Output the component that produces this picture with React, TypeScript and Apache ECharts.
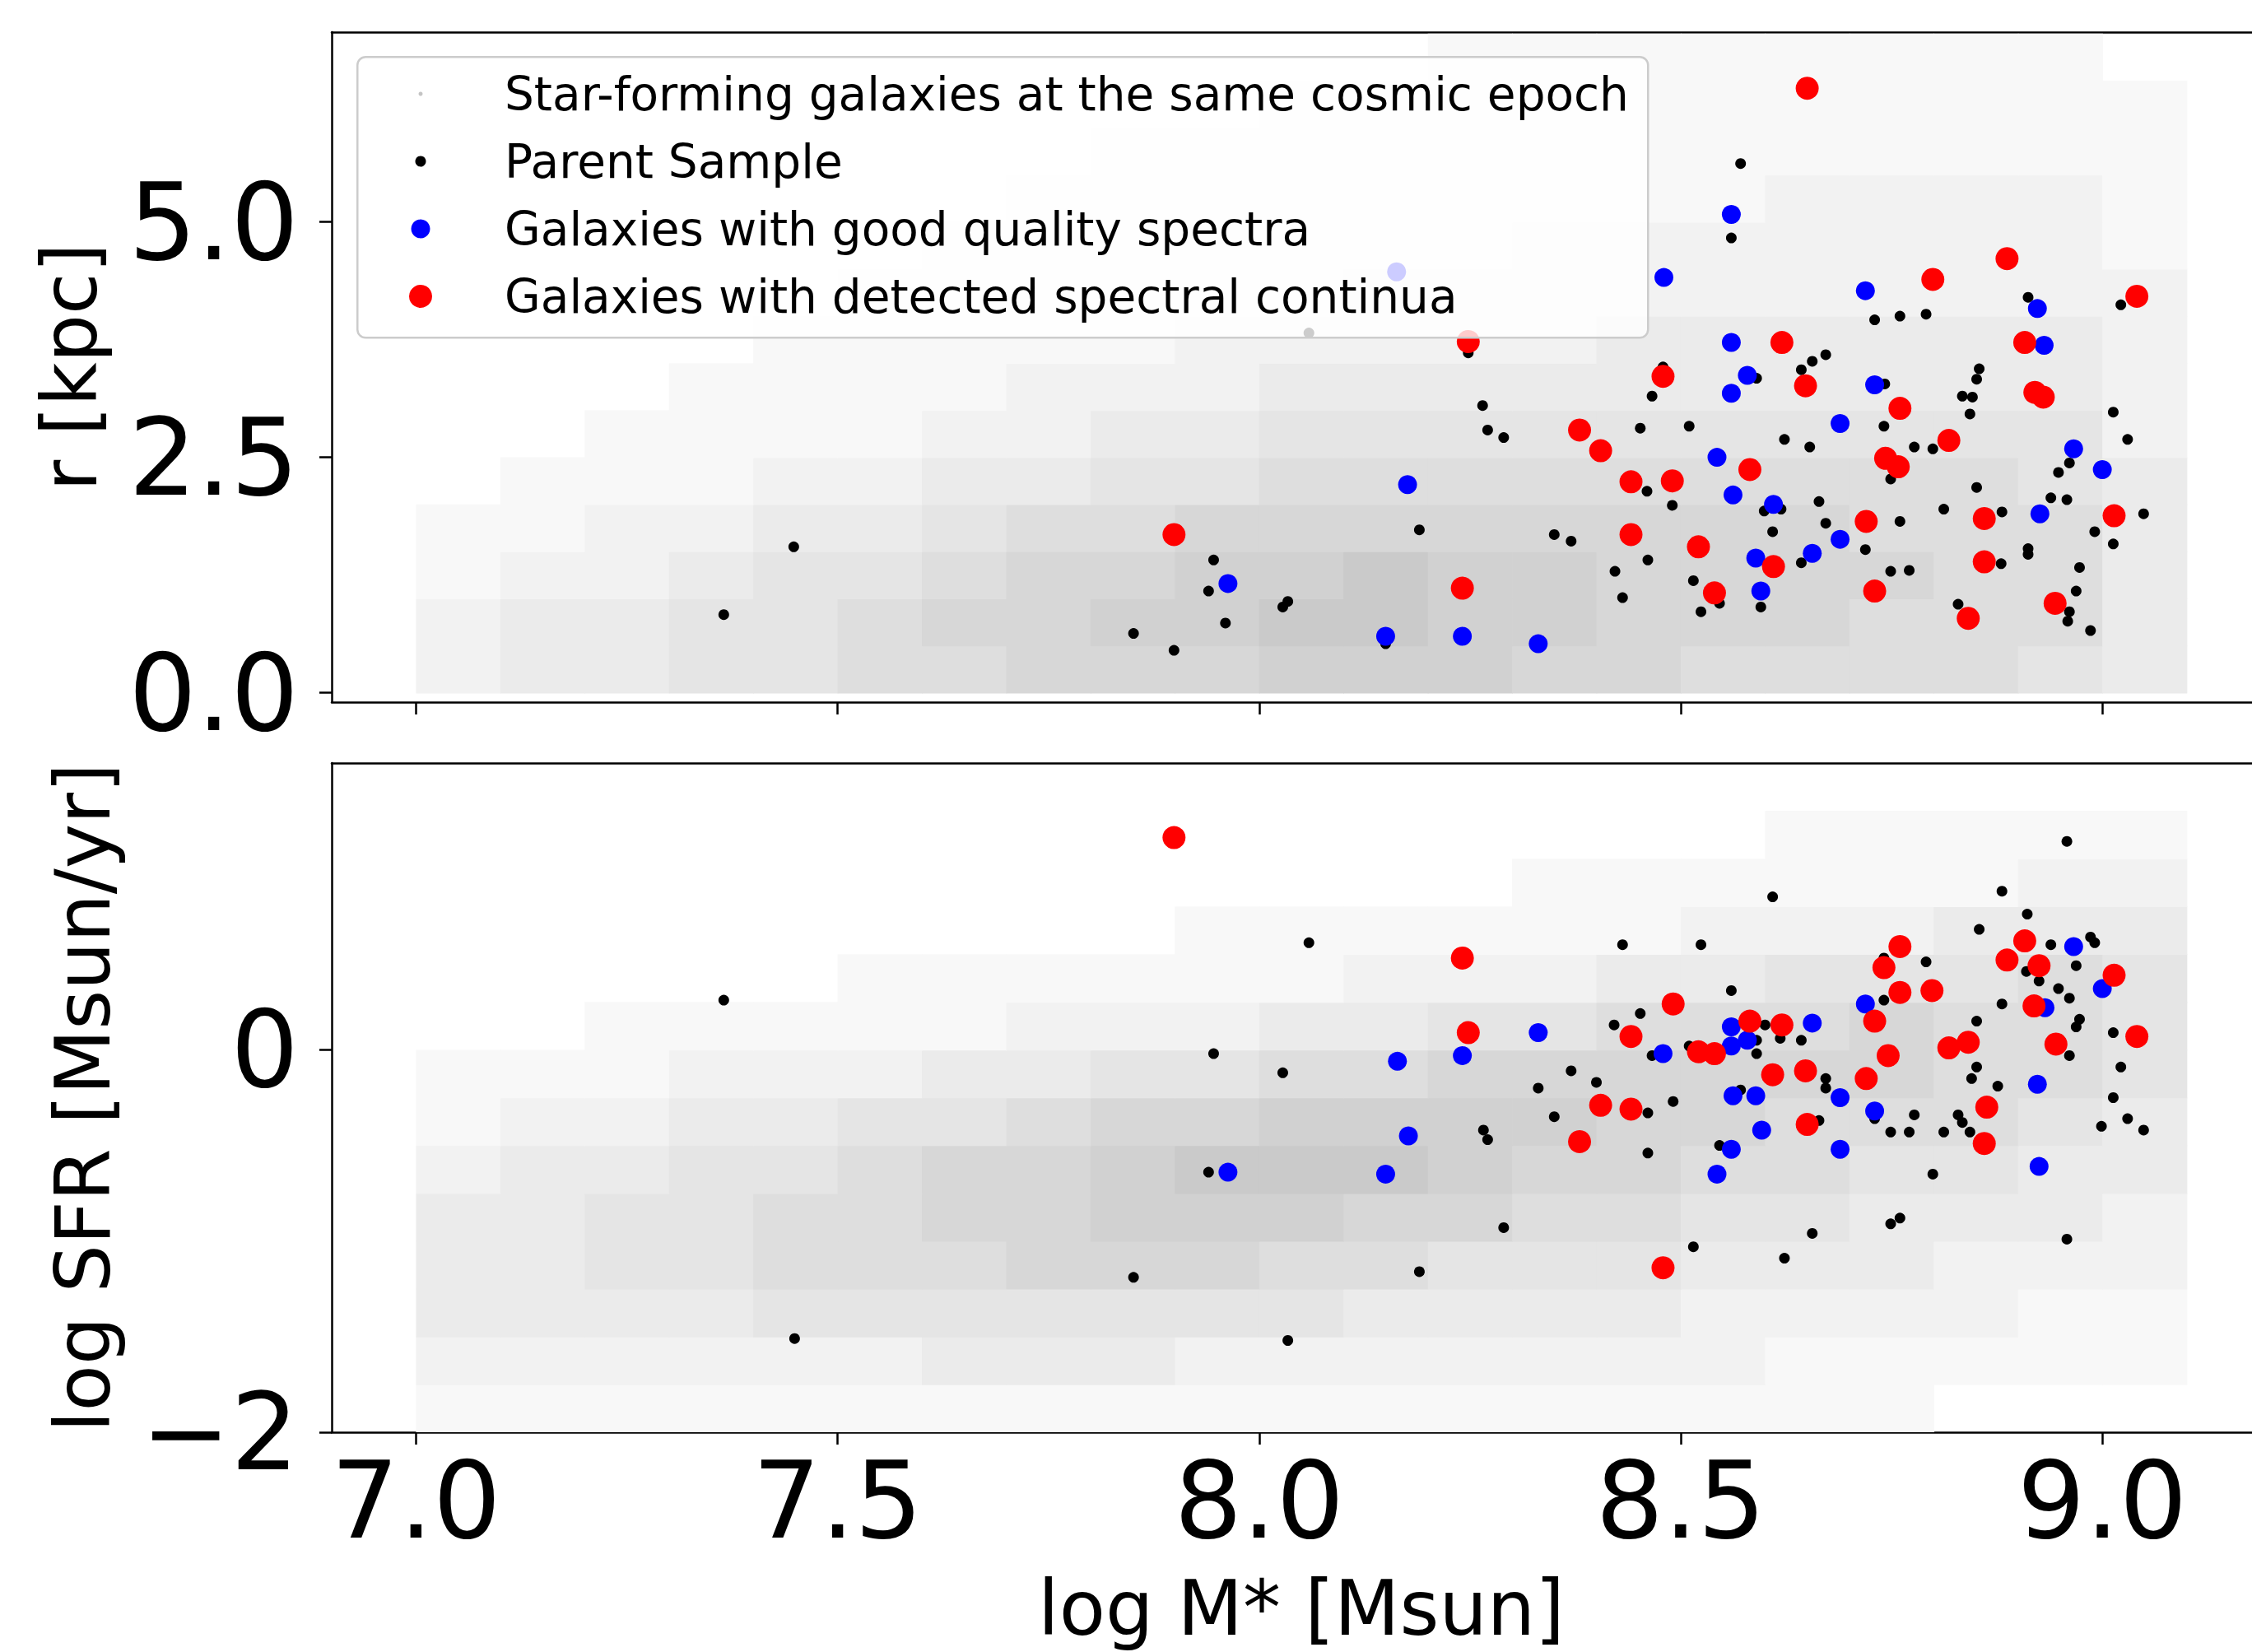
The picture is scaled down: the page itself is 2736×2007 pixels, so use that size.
import React, { useEffect, useRef } from 'react';
import * as echarts from 'echarts';

const FONT = "'DejaVu Sans', 'Liberation Sans', sans-serif";

const NAME_SF = 'Star-forming galaxies at the same cosmic epoch';
const NAME_PARENT = 'Parent Sample';
const NAME_GOOD = 'Galaxies with good quality spectra';
const NAME_CONT = 'Galaxies with detected spectral continua';

// axis ticks
const massTicks = [7.0, 7.5, 8.0, 8.5, 9.0];
const radiusTicks = [0, 2.5, 5.0];
const sfrTicks = [-2, 0];

// background population, read as a density grid (0 = empty .. 9 = densest)
const massBins = [7.0, 7.1, 7.2, 7.3, 7.4, 7.5, 7.6, 7.7, 7.8, 7.9, 8.0, 8.1, 8.2, 8.3, 8.4, 8.5, 8.6, 8.7, 8.8, 8.9, 9.0];
const MASS_BIN = 0.1;
const radiusBins = [0, 0.5, 1.0, 1.5, 2.0, 2.5, 3.0, 3.5, 4.0, 4.5, 5.0, 5.5, 6.0, 6.5];
const RADIUS_BIN = 0.5;
const sfrBins = [-2.0, -1.75, -1.5, -1.25, -1.0, -0.75, -0.5, -0.25, 0, 0.25, 0.5, 0.75, 1.0, 1.25];
const SFR_BIN = 0.25;

const radiusDensity = [
  [2, 3, 3, 4, 4, 5, 5, 6, 6, 6, 7, 7, 7, 6, 6, 5, 5, 5, 5, 4, 3],
  [2, 3, 3, 4, 4, 5, 6, 6, 7, 7, 8, 8, 7, 7, 6, 6, 6, 5, 5, 5, 3],
  [1, 2, 2, 3, 4, 4, 5, 6, 6, 7, 7, 8, 7, 7, 6, 6, 6, 6, 5, 5, 3],
  [1, 1, 2, 2, 3, 3, 4, 5, 5, 6, 6, 6, 6, 6, 6, 6, 6, 5, 5, 5, 3],
  [0, 1, 1, 1, 2, 2, 3, 3, 4, 4, 5, 5, 5, 5, 5, 5, 5, 5, 5, 4, 3],
  [0, 0, 1, 1, 1, 1, 2, 2, 3, 3, 4, 4, 4, 4, 4, 4, 4, 4, 4, 4, 2],
  [0, 0, 0, 1, 1, 1, 1, 2, 2, 2, 3, 3, 3, 3, 3, 3, 3, 3, 3, 3, 2],
  [0, 0, 0, 0, 1, 1, 1, 1, 1, 2, 2, 2, 2, 2, 3, 3, 3, 3, 3, 3, 2],
  [0, 0, 0, 0, 0, 1, 1, 1, 1, 1, 1, 2, 2, 2, 2, 2, 2, 2, 2, 2, 2],
  [0, 0, 0, 0, 0, 0, 1, 1, 1, 1, 1, 1, 1, 2, 2, 2, 2, 2, 2, 2, 1],
  [0, 0, 0, 0, 0, 0, 0, 1, 1, 1, 1, 1, 1, 1, 1, 1, 2, 2, 2, 2, 1],
  [0, 0, 0, 0, 0, 0, 0, 0, 1, 1, 1, 1, 1, 1, 1, 1, 1, 1, 1, 1, 1],
  [0, 0, 0, 0, 0, 0, 0, 0, 0, 0, 1, 1, 1, 1, 1, 1, 1, 1, 1, 1, 1],
  [0, 0, 0, 0, 0, 0, 0, 0, 0, 0, 0, 0, 1, 1, 1, 1, 1, 1, 1, 1, 0],
];

const sfrDensity = [
  [1, 1, 1, 1, 1, 1, 1, 1, 1, 1, 1, 1, 1, 1, 1, 1, 1, 1, 0, 0, 0],
  [2, 2, 2, 2, 2, 2, 3, 3, 3, 2, 2, 2, 2, 2, 2, 2, 1, 1, 1, 1, 1],
  [3, 3, 3, 3, 4, 4, 4, 4, 4, 4, 4, 3, 3, 3, 3, 2, 2, 2, 2, 1, 1],
  [3, 3, 4, 4, 5, 5, 5, 6, 6, 6, 5, 5, 4, 4, 4, 3, 3, 3, 2, 2, 2],
  [3, 3, 4, 4, 5, 5, 6, 6, 7, 7, 7, 6, 6, 5, 5, 4, 4, 3, 3, 3, 2],
  [2, 3, 3, 4, 4, 5, 6, 6, 7, 8, 8, 8, 7, 6, 6, 5, 5, 4, 4, 3, 3],
  [1, 2, 2, 3, 3, 4, 4, 5, 6, 6, 7, 7, 7, 7, 6, 6, 5, 5, 5, 4, 3],
  [1, 1, 1, 2, 2, 2, 3, 3, 4, 4, 5, 5, 6, 6, 6, 6, 6, 6, 5, 5, 4],
  [0, 0, 1, 1, 1, 1, 1, 2, 2, 2, 3, 3, 4, 4, 5, 5, 5, 6, 5, 5, 4],
  [0, 0, 0, 0, 0, 1, 1, 1, 1, 1, 1, 2, 2, 2, 3, 3, 4, 4, 4, 5, 4],
  [0, 0, 0, 0, 0, 0, 0, 0, 0, 1, 1, 1, 1, 1, 1, 2, 2, 2, 3, 3, 3],
  [0, 0, 0, 0, 0, 0, 0, 0, 0, 0, 0, 0, 0, 1, 1, 1, 1, 1, 1, 2, 2],
  [0, 0, 0, 0, 0, 0, 0, 0, 0, 0, 0, 0, 0, 0, 0, 0, 1, 1, 1, 1, 1],
  [0, 0, 0, 0, 0, 0, 0, 0, 0, 0, 0, 0, 0, 0, 0, 0, 0, 0, 0, 0, 0],
];

// [log M*, r]
const parentRadius = [
  [8.059, 3.82], [8.248, 3.61], [8.479, 3.46], [8.466, 3.15], [8.265, 3.05], [8.271, 2.79], [8.29, 2.71],
  [8.452, 2.81], [8.51, 2.83], [8.46, 2.14], [8.49, 1.99], [8.19, 1.73], [8.35, 1.68], [8.37, 1.61],
  [8.461, 1.41], [7.946, 1.41], [7.94, 1.08], [7.96, 0.74], [8.028, 0.91], [8.034, 0.97], [8.15, 0.52],
  [7.899, 0.45], [8.422, 1.29], [8.431, 1.01], [8.515, 1.19], [8.524, 0.86], [7.851, 0.63], [7.448, 1.55],
  [7.365, 0.83],
  [8.571, 5.62], [8.56, 4.83], [9.022, 4.12], [8.912, 4.2], [8.73, 3.96], [8.76, 4.0], [8.791, 4.02],
  [8.672, 3.59], [8.656, 3.52], [8.643, 3.43], [8.854, 3.44], [8.851, 3.33], [8.59, 3.34], [8.742, 3.28],
  [8.834, 3.15], [8.846, 3.14], [8.843, 2.96], [9.013, 2.98], [8.741, 2.83], [8.623, 2.69], [8.653, 2.61],
  [9.03, 2.69], [8.777, 2.61], [8.799, 2.59], [8.749, 2.27], [8.961, 2.44], [8.948, 2.34], [8.851, 2.18],
  [8.939, 2.07], [8.958, 2.05], [8.599, 1.93], [8.619, 1.95], [8.664, 2.03], [8.672, 1.8], [8.76, 1.82],
  [8.812, 1.95], [8.881, 1.92], [9.049, 1.9], [8.609, 1.71], [8.719, 1.52], [8.991, 1.71], [9.013, 1.58],
  [8.643, 1.38], [8.749, 1.29], [8.771, 1.3], [8.88, 1.37], [8.912, 1.53], [8.912, 1.47], [8.973, 1.33],
  [8.546, 0.95], [8.595, 0.91], [8.829, 0.94], [8.961, 0.86], [8.959, 0.76], [8.969, 1.08], [8.986, 0.66],
];

const goodRadius = [
  [8.163, 4.47], [8.48, 4.41], [8.176, 2.21], [7.963, 1.16], [8.15, 0.6], [8.241, 0.6], [8.331, 0.52],
  [8.56, 5.08], [8.719, 4.27], [8.923, 4.08], [8.56, 3.72], [8.931, 3.69], [8.579, 3.37], [8.73, 3.27],
  [8.56, 3.18], [8.689, 2.86], [8.543, 2.5], [8.966, 2.59], [9.0, 2.37], [8.562, 2.1], [8.61, 2.0],
  [8.926, 1.9], [8.689, 1.63], [8.589, 1.43], [8.656, 1.48], [8.595, 1.08],
];

const contRadius = [
  [8.248, 3.73], [8.479, 3.36], [8.38, 2.79], [8.405, 2.57], [8.441, 2.24], [8.49, 2.25], [8.441, 1.68],
  [8.521, 1.55], [7.899, 1.68], [8.241, 1.11], [8.54, 1.06], [8.65, 6.42], [8.887, 4.61], [8.799, 4.39],
  [9.041, 4.21], [8.62, 3.72], [8.908, 3.72], [8.648, 3.26], [8.92, 3.19], [8.93, 3.14], [8.76, 3.02],
  [8.818, 2.68], [8.582, 2.37], [8.743, 2.49], [8.758, 2.4], [8.72, 1.82], [8.86, 1.85], [9.014, 1.88],
  [8.61, 1.34], [8.86, 1.39], [8.73, 1.08], [8.841, 0.79], [8.944, 0.95],
];

// [log M*, log SFR]
const parentSfr = [
  [7.365, 0.26], [7.449, -1.51], [8.059, 0.56], [8.431, 0.55], [8.524, 0.55], [8.452, 0.19], [8.421, 0.13],
  [8.466, -0.03], [8.51, 0.02], [7.946, -0.02], [8.028, -0.12], [8.37, -0.11], [8.4, -0.17], [8.331, -0.2],
  [8.461, -0.33], [8.491, -0.27], [8.35, -0.35], [8.266, -0.42], [8.271, -0.47], [8.461, -0.54],
  [7.94, -0.64], [8.29, -0.93], [8.515, -1.03], [8.19, -1.16], [8.034, -1.52], [7.851, -1.19],
  [8.958, 1.09], [8.609, 0.8], [8.881, 0.83], [8.911, 0.71], [8.854, 0.63], [8.741, 0.48], [8.791, 0.46],
  [8.939, 0.55], [8.986, 0.59], [8.991, 0.56], [8.969, 0.44], [8.91, 0.41], [8.925, 0.36], [8.56, 0.31],
  [8.948, 0.32], [8.961, 0.27], [8.741, 0.26], [8.881, 0.24], [8.851, 0.15], [8.6, 0.13], [8.59, 0.05],
  [8.59, -0.02], [8.618, 0.06], [8.643, 0.05], [8.973, 0.16], [8.969, 0.12], [9.013, 0.09], [8.961, -0.03],
  [9.022, -0.09], [8.851, -0.09], [8.845, -0.15], [8.876, -0.19], [8.672, -0.15], [8.672, -0.2],
  [8.571, -0.21], [9.013, -0.25], [8.73, -0.36], [8.777, -0.34], [8.829, -0.34], [8.834, -0.38],
  [8.843, -0.43], [8.664, -0.37], [9.03, -0.36], [8.999, -0.4], [9.049, -0.42], [8.749, -0.43],
  [8.771, -0.43], [8.812, -0.43], [8.546, -0.5], [8.799, -0.65], [8.749, -0.91], [8.76, -0.88],
  [8.958, -0.99], [8.656, -0.96], [8.623, -1.09],
];

const goodSfr = [
  [8.331, 0.09], [8.479, -0.02], [8.164, -0.06], [8.241, -0.03], [8.177, -0.45], [7.963, -0.64],
  [8.15, -0.65], [8.966, 0.54], [9.0, 0.32], [8.719, 0.24], [8.932, 0.22], [8.656, 0.14], [8.56, 0.12],
  [8.579, 0.05], [8.56, 0.02], [8.923, -0.18], [8.562, -0.24], [8.589, -0.24], [8.689, -0.25],
  [8.73, -0.32], [8.596, -0.42], [8.689, -0.52], [8.56, -0.52], [8.543, -0.65], [8.925, -0.61],
];

const contSfr = [
  [7.899, 1.11], [8.241, 0.48], [8.491, 0.24], [8.441, 0.07], [8.248, 0.09], [8.521, -0.01], [8.54, -0.02],
  [8.405, -0.29], [8.441, -0.31], [8.38, -0.48], [8.479, -1.14], [8.76, 0.54], [8.741, 0.43], [8.908, 0.57],
  [8.887, 0.47], [8.925, 0.44], [9.014, 0.39], [8.76, 0.3], [8.798, 0.31], [8.919, 0.23], [8.73, 0.15],
  [8.582, 0.15], [8.62, 0.13], [9.041, 0.07], [8.945, 0.03], [8.818, 0.01], [8.841, 0.04], [8.746, -0.03],
  [8.609, -0.13], [8.648, -0.11], [8.72, -0.15], [8.863, -0.3], [8.65, -0.39], [8.86, -0.49],
];

const X_MIN = 6.9;
const X_MAX = 9.2;
const R_MIN = -0.0997;
const R_MAX = 7.016;
const S_MIN = -2;
const S_MAX = 1.5;

const GRID_LEFT = 403;
const GRID_WIDTH = 2356;

function buildCells(density: number[][], yBins: number[]) {
  const out: number[][] = [];
  density.forEach((row, i) => {
    row.forEach((v, j) => {
      if (v > 0) out.push([massBins[j], yBins[i], v]);
    });
  });
  return out;
}

function shade(v: number) {
  const l = Math.round(255 - v * 6.6);
  return `rgb(${l},${l},${l})`;
}

function cloudSeries(cells: number[][], axisIndex: number, yStep: number) {
  return {
    type: 'custom',
    name: NAME_SF,
    xAxisIndex: axisIndex,
    yAxisIndex: axisIndex,
    silent: true,
    clip: true,
    z: 1,
    data: cells,
    renderItem: (_params: any, api: any) => {
      const x0 = api.value(0);
      const y0 = api.value(1);
      const v = api.value(2);
      const a = api.coord([x0, y0]);
      const b = api.coord([x0 + MASS_BIN, y0 + yStep]);
      return {
        type: 'rect',
        shape: { x: a[0], y: b[1], width: b[0] - a[0] + 0.8, height: a[1] - b[1] + 0.8 },
        style: { fill: shade(v), stroke: null },
      };
    },
  };
}

function pointSeries(name: string, data: number[][], axisIndex: number, color: string, size: number, z: number) {
  return {
    type: 'scatter',
    name,
    xAxisIndex: axisIndex,
    yAxisIndex: axisIndex,
    data,
    symbol: 'circle',
    symbolSize: size,
    itemStyle: { color, opacity: 1 },
    z,
    silent: true,
  };
}

const axisLine = { show: true, onZero: false, lineStyle: { color: '#000', width: 2.5 } };
const tickStyle = (vals: number[]) => ({
  show: true,
  inside: false,
  length: 15,
  customValues: vals,
  lineStyle: { color: '#000', width: 2.5 },
});
const tickLabel = (vals: number[], fmt: (v: number) => string, margin: number) => ({
  show: true,
  customValues: vals,
  formatter: fmt,
  fontFamily: FONT,
  fontSize: 130,
  lineHeight: 130,
  color: '#000',
  margin,
});
const fmtOne = (v: number) => v.toFixed(1);
const fmtInt = (v: number) => (v < 0 ? '\u2212' + Math.abs(v) : String(v));

const legendRows = [
  { name: NAME_SF, size: 5, color: '#c4c4c4', cy: 114 },
  { name: NAME_PARENT, size: 13, color: '#000000', cy: 196 },
  { name: NAME_GOOD, size: 23, color: '#0000ff', cy: 278 },
  { name: NAME_CONT, size: 28, color: '#ff0000', cy: 360 },
];

const option: any = {
  animation: false,
  backgroundColor: '#ffffff',
  textStyle: { fontFamily: FONT },
  grid: [
    { left: GRID_LEFT, top: 39, width: GRID_WIDTH, height: 814, outerBoundsMode: 'none', containLabel: false },
    { left: GRID_LEFT, top: 927, width: GRID_WIDTH, height: 813, outerBoundsMode: 'none', containLabel: false },
  ],
  xAxis: [
    {
      gridIndex: 0, type: 'value', min: X_MIN, max: X_MAX, axisLine,
      axisTick: tickStyle(massTicks), axisLabel: { show: false }, splitLine: { show: false },
    },
    {
      gridIndex: 1, type: 'value', min: X_MIN, max: X_MAX, axisLine,
      axisTick: tickStyle(massTicks), axisLabel: tickLabel(massTicks, fmtOne, 18), splitLine: { show: false },
      name: 'log M* [Msun]', nameLocation: 'middle', nameGap: 168,
      nameTextStyle: { fontFamily: FONT, fontSize: 92, lineHeight: 92, color: '#000' },
    },
    {
      gridIndex: 0, type: 'value', position: 'top', min: X_MIN, max: X_MAX, axisLine,
      axisTick: { show: false }, axisLabel: { show: false }, splitLine: { show: false },
    },
    {
      gridIndex: 1, type: 'value', position: 'top', min: X_MIN, max: X_MAX, axisLine,
      axisTick: { show: false }, axisLabel: { show: false }, splitLine: { show: false },
    },
  ],
  yAxis: [
    {
      gridIndex: 0, type: 'value', min: R_MIN, max: R_MAX, axisLine,
      axisTick: tickStyle(radiusTicks), axisLabel: tickLabel(radiusTicks, fmtOne, 40), splitLine: { show: false },
      name: 'r [kpc]', nameLocation: 'middle', nameRotate: 90, nameGap: 272,
      nameTextStyle: { fontFamily: FONT, fontSize: 92, lineHeight: 92, color: '#000' },
    },
    {
      gridIndex: 1, type: 'value', min: S_MIN, max: S_MAX, axisLine,
      axisTick: tickStyle(sfrTicks), axisLabel: tickLabel(sfrTicks, fmtInt, 40), splitLine: { show: false },
      name: 'log SFR [Msun/yr]', nameLocation: 'middle', nameRotate: 90, nameGap: 256,
      nameTextStyle: { fontFamily: FONT, fontSize: 92, lineHeight: 92, color: '#000' },
    },
  ],
  legend: legendRows.map((r) => ({
    show: true,
    orient: 'vertical',
    left: 511 - r.size / 2,
    top: r.cy - 30,
    padding: 0,
    itemGap: 0,
    itemWidth: r.size,
    itemHeight: r.size,
    icon: 'circle',
    selectedMode: false,
    z: 60,
    data: [{ name: r.name, itemStyle: { color: r.color, opacity: 1 } }],
    textStyle: {
      fontFamily: FONT,
      fontSize: 56.5,
      lineHeight: 60,
      color: '#000',
      padding: [0, 0, 0, 97 - r.size / 2],
    },
  })),
  graphic: [
    {
      type: 'rect',
      left: 433,
      top: 68,
      z: 50,
      silent: true,
      shape: { width: 1568, height: 341, r: 10 },
      style: { fill: 'rgba(255,255,255,0.8)', stroke: '#cccccc', lineWidth: 2.5 },
    },
  ],
  series: [
    cloudSeries(buildCells(radiusDensity, radiusBins), 0, RADIUS_BIN),
    cloudSeries(buildCells(sfrDensity, sfrBins), 1, SFR_BIN),
    pointSeries(NAME_PARENT, parentRadius, 0, '#000000', 13, 3),
    pointSeries(NAME_GOOD, goodRadius, 0, '#0000ff', 23, 4),
    pointSeries(NAME_CONT, contRadius, 0, '#ff0000', 28, 5),
    pointSeries(NAME_PARENT, parentSfr, 1, '#000000', 13, 3),
    pointSeries(NAME_GOOD, goodSfr, 1, '#0000ff', 23, 4),
    pointSeries(NAME_CONT, contSfr, 1, '#ff0000', 28, 5),
  ],
};

export default function App() {
  const ref = useRef<HTMLDivElement>(null);
  useEffect(() => {
    document.documentElement.style.overflow = 'hidden';
    document.body.style.margin = '0';
    const chart = echarts.init(ref.current as HTMLDivElement, null, { renderer: 'svg' });
    chart.setOption(option);
    return () => {
      chart.dispose();
    };
  }, []);
  return (
    <div
      ref={ref}
      style={{ position: 'fixed', left: 0, top: 0, width: 2780, height: 2007, background: '#ffffff' }}
    />
  );
}
